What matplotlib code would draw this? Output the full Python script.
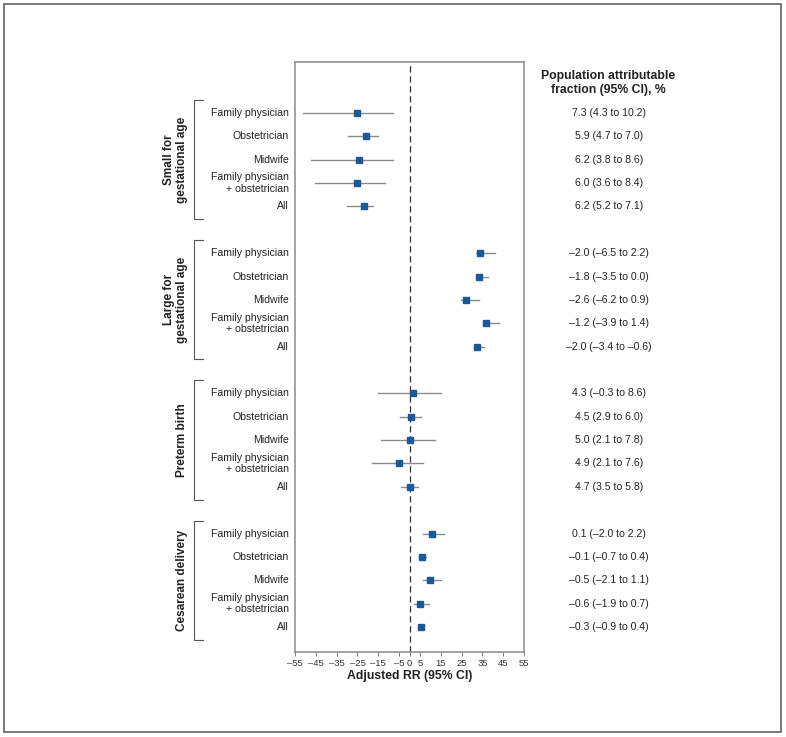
import matplotlib
matplotlib.use("Agg")
import matplotlib.pyplot as plt
from matplotlib.transforms import blended_transform_factory
import numpy as np

plt.rcParams['font.family'] = ['Liberation Sans', 'DejaVu Sans']

# data
groups = ["Small for\ngestational age", "Large for\ngestational age",
          "Preterm birth", "Cesarean delivery"]
providers = ["Family physician", "Obstetrician", "Midwife",
             "Family physician\n+ obstetrician", "All"]

rr = [[-25.4, -21.0, -24.1, -25.4, -22.0],
      [34.0, 33.3, 27.1, 36.8, 32.2],
      [1.5, 0.7, 0.3, -5.1, 0.3],
      [11.0, 6.1, 9.9, 5.1, 5.3]]
rr_lo = [[-51.0, -29.4, -47.5, -45.3, -29.9],
         [32.0, 32.0, 24.7, 35.2, 30.8],
         [-14.9, -4.5, -13.6, -18.2, -4.2],
         [6.4, 4.8, 6.3, 2.3, 4.0]]
rr_hi = [[-7.8, -15.3, -7.8, -11.6, -17.7],
         [41.3, 37.6, 33.2, 42.9, 35.6],
         [15.1, 5.6, 12.2, 6.3, 4.2],
         [16.7, 7.9, 15.2, 9.3, 6.7]]

paf = [[7.3, 5.9, 6.2, 6.0, 6.2],
       [-2.0, -1.8, -2.6, -1.2, -2.0],
       [4.3, 4.5, 5.0, 4.9, 4.7],
       [0.1, -0.1, -0.5, -0.6, -0.3]]
paf_lo = [[4.3, 4.7, 3.8, 3.6, 5.2],
          [-6.5, -3.5, -6.2, -3.9, -3.4],
          [-0.3, 2.9, 2.1, 2.1, 3.5],
          [-2.0, -0.7, -2.1, -1.9, -0.9]]
paf_hi = [[10.2, 7.0, 8.6, 8.4, 7.1],
          [2.2, 0.0, 0.9, 1.4, -0.6],
          [8.6, 6.0, 7.8, 7.6, 5.8],
          [2.2, 0.4, 1.1, 0.7, 0.4]]

xticks = [-55, -45, -35, -25, -15, -5, 0, 5, 15, 25, 35, 45, 55]

marker_col = "#1b5896"
ci_col = "#8a8a8a"


def fmt(v):
    return f"{v:.1f}".replace("-", "\u2013")


fig = plt.figure(figsize=(7.86, 7.37), dpi=100)
W, H = 786, 737
ax = fig.add_axes([295 / W, 1 - 652 / H, 229 / W, 590 / H])

# outer frame
fig.patches.append(plt.Rectangle((4 / W, 1 - 732 / H), 777 / W, 728 / H,
                                 transform=fig.transFigure, fill=False,
                                 edgecolor="#6e6e6e", lw=1.3))

trans = blended_transform_factory(fig.transFigure, ax.transData)
step = len(providers) + 1

for g, gname in enumerate(groups):
    ys = np.arange(len(providers)) + g * step
    for i, prov in enumerate(providers):
        y = ys[i]
        ax.plot([rr_lo[g][i], rr_hi[g][i]], [y, y], color=ci_col, lw=1.0,
                zorder=2)
        ax.plot(rr[g][i], y, marker="s", ms=4.6, color=marker_col, zorder=3)
        ax.text(289 / W, y, prov, transform=trans, ha="right", va="center",
                fontsize=7.6, color="#222222", linespacing=1.15)
        ax.text(609 / W, y,
                f"{fmt(paf[g][i])} ({fmt(paf_lo[g][i])} to {fmt(paf_hi[g][i])})",
                transform=trans, ha="center", va="center", fontsize=7.6,
                color="#222222")
    # bracket
    top, bot = ys[0] - 0.55, ys[-1] + 0.55
    ax.plot([203 / W, 194 / W, 194 / W, 203 / W], [top, top, bot, bot],
            transform=trans, color="#555555", lw=0.8, clip_on=False)
    ax.text(188 / W, ys[2], gname, transform=trans, rotation=90,
            ha="right", va="center", multialignment="center",
            fontsize=8.5, fontweight="bold", color="#222222", linespacing=1.1)

ax.axvline(0, color="#333333", lw=0.9, ls=(0, (5, 3)), zorder=1)

n = len(groups) * step - 1
ax.set_ylim(n - 1 + 1.07, -2.18)
ax.set_yticks([])
ax.set_xlim(-55, 55)
ax.set_xticks(xticks)
ax.set_xticklabels([str(t).replace("-", "\u2013") for t in xticks])
ax.tick_params(axis="x", labelsize=6.8, length=3, width=0.6, pad=2,
               color="#666666", labelcolor="#333333")
for s in ax.spines.values():
    s.set_color("#8a8a8a")
    s.set_linewidth(1.1)
ax.set_xlabel("Adjusted RR (95% CI)", fontsize=8.8, fontweight="bold",
              labelpad=1.5, color="#222222")

fig.text(608 / W, 1 - 83 / H, "Population attributable\nfraction (95% CI), %",
         ha="center", va="center", fontsize=8.8, fontweight="bold",
         color="#222222", linespacing=1.15)

fig.savefig("out.png", dpi=100)
